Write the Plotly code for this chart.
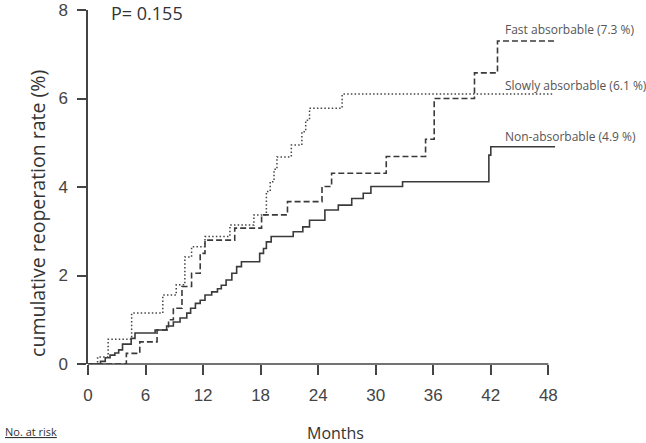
import plotly.graph_objects as go

# ---- data ----
x_ticks = [0, 6, 12, 18, 24, 30, 36, 42, 48]
y_ticks = [0, 2, 4, 6, 8]

slow_t = [0, 1.0, 2.1, 4.55, 7.8, 9.2, 10.1, 10.8, 12.2, 14.8, 17.3, 18.6, 19.0, 19.4, 19.7, 21.2, 22.3, 22.7, 23.1, 26.5, 48.6]
slow_v = [0, 0.16, 0.56, 1.15, 1.56, 1.79, 2.42, 2.65, 2.88, 3.14, 3.37, 3.9, 4.12, 4.4, 4.68, 4.95, 5.25, 5.51, 5.78, 6.1, 6.1]

fast_t = [0, 4.0, 5.4, 7.2, 8.4, 8.9, 9.8, 10.8, 11.7, 12.2, 15.3, 18.1, 20.8, 24.4, 25.4, 31.1, 35.2, 36.1, 40.3, 42.7, 48.6]
fast_v = [0, 0.24, 0.50, 0.77, 1.0, 1.26, 1.75, 2.05, 2.5, 2.8, 3.07, 3.37, 3.67, 4.01, 4.31, 4.69, 5.08, 6.0, 6.58, 7.3, 7.3]

non_t = [0, 1.3, 1.8, 2.3, 2.8, 3.2, 3.6, 4.5, 4.9, 7.0, 8.2, 8.9, 9.6, 10.3, 10.7, 11.2, 11.7, 12.2, 12.9, 13.5,
         13.9, 14.4, 15.0, 15.5, 16.0, 17.9, 18.3, 18.6, 19.1, 21.4, 22.4, 23.1, 24.7, 26.1, 27.5, 28.7, 29.5, 32.8,
         41.8, 42.0, 48.7]
non_v = [0, 0.06, 0.14, 0.2, 0.25, 0.32, 0.45, 0.58, 0.70, 0.77, 0.86, 0.95, 1.04, 1.15, 1.26, 1.37, 1.44, 1.56, 1.63, 1.70,
         1.78, 1.9, 2.05, 2.2, 2.31, 2.5, 2.61, 2.76, 2.88, 2.99, 3.10, 3.25, 3.48, 3.59, 3.74, 3.86, 4.01, 4.12,
         4.72, 4.91, 4.91]

labels = ["Fast absorbable (7.3 %)", "Slowly absorbable (6.1 %)", "Non-absorbable (4.9 %)"]
p_text = "P= 0.155"

LINE = "#3a3a3a"
TXT = "#444444"

fig = go.Figure()
fig.add_trace(go.Scatter(x=non_t, y=non_v, mode="lines", line=dict(shape="hv", color=LINE, width=1.6),
                         name=labels[2], hoverinfo="skip"))
fig.add_trace(go.Scatter(x=fast_t, y=fast_v, mode="lines", line=dict(shape="hv", color=LINE, width=1.6, dash="6px,3px"),
                         name=labels[0], hoverinfo="skip"))
fig.add_trace(go.Scatter(x=slow_t, y=slow_v, mode="lines", line=dict(shape="hv", color="#444", width=1.5, dash="1.5px,2.2px"),
                         name=labels[1], hoverinfo="skip"))

fig.update_layout(
    width=646, height=443,
    margin=dict(l=88, r=89.5, t=10, b=79, autoexpand=False),
    paper_bgcolor="white", plot_bgcolor="white",
    showlegend=False,
    font=dict(family="Liberation Sans, Arial, sans-serif", color=TXT),
)
fig.update_xaxes(range=[0, 48.8], tickvals=x_ticks, ticktext=[str(v) for v in x_ticks],
                 ticks="outside", ticklen=10, tickwidth=1.5, tickcolor="#444",
                 showline=False, showgrid=False, zeroline=False, automargin=False,
                 tickfont=dict(size=17, color=TXT), ticklabelstandoff=6)
fig.update_yaxes(range=[0, 8], tickvals=y_ticks, ticktext=[str(v) for v in y_ticks],
                 ticks="outside", ticklen=9, tickwidth=1.5, tickcolor="#444",
                 showline=True, linecolor="#444", linewidth=1.5,
                 showgrid=False, zeroline=False, automargin=False,
                 tickfont=dict(size=17, color=TXT), ticklabelstandoff=6)

# x axis line only spans the tick range
fig.add_shape(type="line", xref="x", yref="paper", x0=x_ticks[0], x1=x_ticks[-1], y0=0, y1=0,
              line=dict(color="#444", width=1.5), layer="below")

ann_font = "Open Sans, sans-serif"
fig.add_annotation(text="cumulative reoperation rate (%)", xref="paper", yref="paper", x=0, y=0.424,
                   xshift=-50, textangle=-90, showarrow=False, xanchor="center", yanchor="middle",
                   font=dict(family=ann_font, size=19.5, color="#333"))
fig.add_annotation(text="Months", xref="paper", yref="paper", x=0.529, y=-0.195, showarrow=False,
                   xanchor="center", yanchor="middle", font=dict(family=ann_font, size=16, color="#333"))
fig.add_annotation(text="<u>No. at risk</u>", xref="paper", yref="paper", x=-0.181, y=-0.192, showarrow=False,
                   xanchor="left", yanchor="middle", font=dict(family=ann_font, size=11, color="#333"))
fig.add_annotation(text=p_text, xref="x", yref="paper", x=2.3, y=1, yshift=10, showarrow=False,
                   xanchor="left", yanchor="top", borderpad=0,
                   font=dict(family=ann_font, size=18, color="#333"))
for lab, yy in zip(labels, [7.57, 6.3, 5.15]):
    fig.add_annotation(text=lab, xref="x", yref="y", x=43.3, y=yy, showarrow=False,
                       xanchor="left", yanchor="middle", font=dict(family=ann_font, size=12, color="#555"))

fig.write_html("out.html", config={"displayModeBar": False},
               post_script="document.body.style.margin='0px';")
